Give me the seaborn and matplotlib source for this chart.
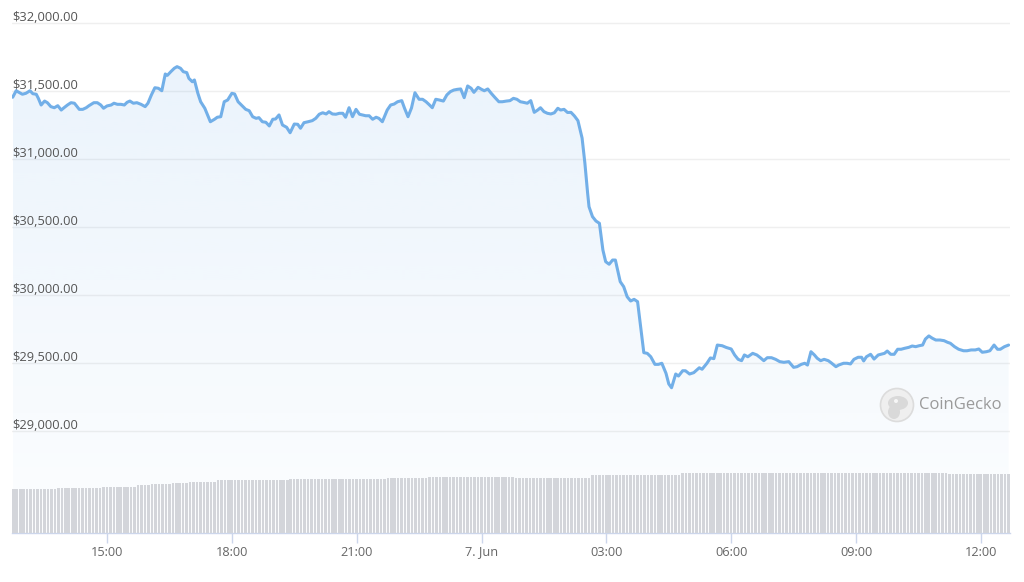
import numpy as np
import pandas as pd
import matplotlib
matplotlib.use("Agg")
import matplotlib.pyplot as plt
import matplotlib.dates as mdates
import matplotlib.transforms as mtransforms
from matplotlib.patches import Polygon, Circle, Ellipse
import matplotlib.colors as mcolors
import seaborn as sns

# ---------------- data ----------------
times = [
    "12:44", "12:49", "12:53", "12:58", "13:03", "13:09", "13:13", "13:18", "13:21", "13:25", "13:30", "13:34", "13:39", "13:44", "13:49", "13:54", "13:58", "14:03", "14:08", "14:13", "14:17", "14:20", "14:25", "14:30", "14:34", "14:41", "14:46", "14:51", "14:55", "15:00",
    "15:06", "15:10", "15:15", "15:20", "15:25", "15:29", "15:33", "15:38", "15:43", "15:49", "15:55", "15:59", "16:04", "16:09", "16:14", "16:19", "16:24", "16:27", "16:32", "16:37", "16:41", "16:46", "16:50", "16:55", "16:58", "17:03", "17:06", "17:11", "17:15", "17:21",
    "17:29", "17:35", "17:39", "17:44", "17:49", "17:54", "18:00", "18:04", "18:09", "18:15", "18:20", "18:25", "18:30", "18:35", "18:39", "18:44", "18:49", "18:54", "18:59", "19:03", "19:08", "19:13", "19:19", "19:24", "19:30", "19:35", "19:39", "19:44", "19:50", "19:56",
    "20:01", "20:06", "20:11", "20:16", "20:20", "20:25", "20:30", "20:35", "20:40", "20:44", "20:49", "20:54", "20:59", "21:04", "21:08", "21:13", "21:18", "21:23", "21:28", "21:32", "21:37", "21:44", "21:49", "21:54", "21:59", "22:05", "22:09", "22:14", "22:19", "22:24",
    "22:30", "22:35", "22:40", "22:44", "22:49", "22:54", "22:59", "23:05", "23:10", "23:15", "23:20", "23:25", "23:30", "23:35", "23:40", "23:45", "23:49", "23:55", "00:00", "00:04", "00:09", "00:14", "00:19", "00:25", "00:30", "00:36", "00:41", "00:46", "00:51", "00:56",
    "01:00", "01:06", "01:11", "01:16", "01:21", "01:25", "01:30", "01:35", "01:40", "01:45", "01:50", "01:54", "01:59", "02:04", "02:09", "02:14", "02:19", "02:25", "02:29", "02:33", "02:35", "02:40", "02:45", "02:50", "02:55", "02:59", "03:04", "03:09", "03:13", "03:20",
    "03:25", "03:30", "03:35", "03:40", "03:45", "03:50", "03:54", "03:59", "04:04", "04:10", "04:15", "04:20", "04:26", "04:30", "04:34", "04:40", "04:44", "04:50", "04:54", "05:00", "05:06", "05:14", "05:18", "05:25", "05:30", "05:35", "05:40", "05:47", "05:53", "06:00",
    "06:05", "06:10", "06:15", "06:19", "06:24", "06:31", "06:37", "06:42", "06:47", "06:52", "06:58", "07:04", "07:10", "07:16", "07:23", "07:30", "07:35", "07:41", "07:46", "07:50", "07:55", "08:00", "08:04", "08:09", "08:14", "08:20", "08:24", "08:31", "08:35", "08:42",
    "08:47", "08:52", "08:57", "09:03", "09:08", "09:11", "09:15", "09:21", "09:26", "09:32", "09:36", "09:41", "09:45", "09:50", "09:55", "10:00", "10:05", "10:10", "10:16", "10:21", "10:26", "10:31", "10:36", "10:40", "10:45", "10:50", "10:55", "11:01", "11:07", "11:12",
    "11:16", "11:22", "11:28", "11:35", "11:40", "11:46", "11:52", "11:57", "12:02", "12:08", "12:13", "12:19", "12:24", "12:28", "12:34", "12:40",
]

prices = [
    31454, 31502, 31490, 31476, 31483, 31502, 31480, 31476, 31446, 31397, 31426, 31414, 31385, 31377, 31392, 31360, 31377, 31397, 31414, 31410, 31385, 31365, 31365, 31377, 31392, 31414, 31414, 31397, 31373, 31390,
    31397, 31410, 31402, 31402, 31397, 31417, 31426, 31410, 31414, 31402, 31385, 31410, 31471, 31524, 31520, 31502, 31625, 31615, 31642, 31667, 31679, 31667, 31642, 31635, 31593, 31568, 31581, 31483, 31421, 31373,
    31274, 31292, 31307, 31311, 31421, 31434, 31483, 31478, 31421, 31390, 31365, 31355, 31311, 31299, 31304, 31274, 31270, 31243, 31292, 31294, 31324, 31250, 31233, 31193, 31257, 31255, 31226, 31267, 31274, 31282,
    31299, 31329, 31340, 31331, 31348, 31331, 31329, 31336, 31336, 31307, 31377, 31311, 31365, 31329, 31324, 31318, 31318, 31292, 31307, 31299, 31274, 31360, 31397, 31404, 31421, 31429, 31373, 31311, 31375, 31487,
    31439, 31439, 31421, 31402, 31377, 31439, 31434, 31426, 31471, 31495, 31507, 31512, 31515, 31451, 31537, 31520, 31490, 31527, 31512, 31502, 31515, 31483, 31454, 31421, 31421, 31426, 31429, 31446, 31439, 31421,
    31417, 31410, 31429, 31343, 31360, 31377, 31348, 31336, 31331, 31340, 31373, 31360, 31365, 31342, 31343, 31316, 31282, 31154, 30971, 30748, 30649, 30576, 30544, 30527, 30331, 30245, 30226, 30257, 30257, 30098,
    30061, 29987, 29956, 29968, 29951, 29743, 29576, 29571, 29546, 29490, 29490, 29498, 29424, 29346, 29318, 29419, 29404, 29443, 29443, 29419, 29429, 29465, 29454, 29498, 29537, 29532, 29632, 29627, 29614, 29603,
    29559, 29527, 29517, 29559, 29546, 29571, 29559, 29539, 29517, 29539, 29539, 29527, 29510, 29505, 29510, 29468, 29473, 29490, 29498, 29485, 29583, 29559, 29535, 29517, 29527, 29517, 29502, 29473, 29485, 29498,
    29498, 29493, 29527, 29542, 29542, 29515, 29546, 29564, 29529, 29559, 29564, 29571, 29588, 29564, 29564, 29601, 29601, 29608, 29615, 29625, 29620, 29627, 29632, 29676, 29699, 29682, 29669, 29669, 29664, 29652,
    29645, 29620, 29601, 29590, 29590, 29596, 29596, 29603, 29579, 29583, 29590, 29632, 29601, 29601, 29620, 29632,
]

# 5-minute volume bars (billions USD), starting 6 Jun 12:43
volume_start = "2021-06-06 12:43"
volumes = [
    26.4, 26.4, 26.4, 26.4, 26.4, 26.4, 26.4, 26.4, 26.4, 26.4, 26.4, 26.4, 26.4,
    27.2, 27.2, 27.2, 27.2, 27.2, 27.2, 27.2, 27.2, 27.2, 27.2, 27.2, 27.2, 27.2,
    27.8, 27.8, 27.8, 27.8, 27.8, 27.8, 27.8, 27.8, 27.8, 27.8,
    28.6, 28.6, 28.6, 28.6, 29.2, 29.2, 29.2, 29.2, 29.2, 29.2, 30.0, 30.0, 30.0, 30.0, 30.0,
    30.8, 30.8, 30.8, 30.8, 30.8, 30.8, 30.8, 30.8,
    31.6, 31.6, 31.6, 31.6, 31.6, 31.6, 31.6, 31.6, 31.6, 31.6, 31.6, 31.6, 31.6, 31.6, 31.6, 31.6, 31.6, 31.6, 31.6, 31.6, 31.6,
    32.4, 32.4, 32.4, 32.4, 32.4, 32.4, 32.4, 32.4, 32.4, 32.4, 32.4, 32.4, 32.4, 32.4,
    32.4, 32.4, 32.4, 32.4, 32.4, 32.4, 32.4, 32.4, 32.4, 32.4, 32.4, 32.4, 32.4, 32.4,
    33.0, 33.0, 33.0, 33.0, 33.0, 33.0, 33.0, 33.0, 33.0, 33.0, 33.0, 33.0,
    33.8, 33.8, 33.8, 33.8, 33.8, 33.8, 33.8, 33.8, 33.8, 33.8, 33.8, 33.8, 33.8,
    33.8, 33.8, 33.8, 33.8, 33.8, 33.8, 33.8, 33.8, 33.8, 33.8, 33.8, 33.8,
    32.8, 32.8, 32.8, 32.8, 32.8, 32.8, 32.8, 32.8, 32.8, 32.8, 32.8,
    32.8, 32.8, 32.8, 32.8, 32.8, 32.8, 32.8, 32.8, 32.8, 32.8, 32.8,
    34.8, 34.8, 34.8, 34.8, 34.8, 34.8, 34.8, 34.8, 34.8, 34.8, 34.8, 34.8, 34.8,
    34.8, 34.8, 34.8, 34.8, 34.8, 34.8, 34.8, 34.8, 34.8, 34.8, 34.8, 34.8, 34.8,
    36.0, 36.0, 36.0, 36.0, 36.0, 36.0, 36.0, 36.0, 36.0, 36.0, 36.0, 36.0, 36.0, 36.0, 36.0, 36.0, 36.0, 36.0, 36.0, 36.0,
    36.0, 36.0, 36.0, 36.0, 36.0, 36.0, 36.0, 36.0, 36.0, 36.0, 36.0, 36.0, 36.0, 36.0, 36.0, 36.0, 36.0, 36.0, 36.0, 36.0,
    36.0, 36.0, 36.0, 36.0, 36.0, 36.0, 36.0, 36.0, 36.0, 36.0, 36.0, 36.0, 36.0, 36.0, 36.0, 36.0, 36.0, 36.0, 36.0, 36.0,
    36.0, 36.0, 36.0, 36.0, 36.0, 36.0, 36.0, 36.0, 36.0, 36.0, 36.0, 36.0, 36.0, 36.0, 36.0, 36.0, 36.0,
    35.4, 35.4, 35.4, 35.4, 35.4, 35.4, 35.4, 35.4, 35.4, 35.4, 35.4, 35.4, 35.4, 35.4, 35.4, 35.4, 35.4, 35.4,
]

y_ticks = [29000, 29500, 30000, 30500, 31000, 31500, 32000]
x_tick_times = ["2021-06-06 15:00", "2021-06-06 18:00", "2021-06-06 21:00", "2021-06-07 00:00",
                "2021-06-07 03:00", "2021-06-07 06:00", "2021-06-07 09:00", "2021-06-07 12:00"]
x_tick_labels = ["15:00", "18:00", "21:00", "7. Jun", "03:00", "06:00", "09:00", "12:00"]

# ---------------- build frames ----------------
dts = []
day = pd.Timestamp("2021-06-06")
prev = -1
for t in times:
    h, m = map(int, t.split(":"))
    mins = h * 60 + m
    if mins < prev:
        day += pd.Timedelta(days=1)
    prev = mins
    dts.append(day + pd.Timedelta(minutes=mins))
df = pd.DataFrame({"time": dts, "price": prices})

vstart = pd.Timestamp(volume_start)
vol_times = [vstart + pd.Timedelta(minutes=5 * i) for i in range(len(volumes))]
vdf = pd.DataFrame({"time": vol_times, "volume": volumes})

# ---------------- style ----------------
sns.set_theme(style="white")
plt.rcParams["font.family"] = ["Open Sans", "DejaVu Sans"]

W, H = 1024, 582
fig = plt.figure(figsize=(W / 100, H / 100), dpi=100)
fig.patch.set_facecolor("white")

ax_top_px, ax_bot_px = 20, 533
ax_left_px, ax_right_px = 12, 1010
ax = fig.add_axes([ax_left_px / W, (H - ax_bot_px) / H,
                   (ax_right_px - ax_left_px) / W, (ax_bot_px - ax_top_px) / H])
ymin, ymax = 28250, 32022
xmin, xmax = pd.Timestamp("2021-06-06 12:43"), pd.Timestamp("2021-06-07 12:42")

line_color = "#72afe8"

# gradient fill under the price line
xn = mdates.date2num(df["time"])
verts = np.vstack([np.column_stack([xn, df["price"].values]),
                   [[xn[-1], ymin], [xn[0], ymin]]])
clip = Polygon(verts, closed=True, transform=ax.transData, facecolor="none", edgecolor="none")
ax.add_patch(clip)
rgb = mcolors.to_rgb("#7cb5ec")
grad = np.zeros((256, 1, 4))
grad[..., 0], grad[..., 1], grad[..., 2] = rgb
grad[:, 0, 3] = np.linspace(0.17, 0.02, 256)
im = ax.imshow(grad, extent=[xn[0], xn[-1], ymin, ymax], origin="upper",
               aspect="auto", zorder=1, interpolation="bilinear")
im.set_clip_path(clip)

sns.lineplot(data=df, x="time", y="price", ax=ax, color=line_color, linewidth=2.2, zorder=3)

ax.set_xlim(xmin, xmax)
ax.set_ylim(ymin, ymax)
ax.set_xlabel("")
ax.set_ylabel("")

# y grid + labels
ax.set_yticks(y_ticks)
ax.yaxis.grid(True, color="#efefef", linewidth=1)
ax.xaxis.grid(False)
ax.tick_params(axis="y", length=0, labelleft=False)
ytrans = mtransforms.blended_transform_factory(ax.transAxes, ax.transData)
offset = mtransforms.ScaledTranslation(0, 2 / 100, fig.dpi_scale_trans)
for v in y_ticks:
    ax.text(0, v, f"${v:,.2f}", transform=ytrans + offset, ha="left", va="baseline",
            fontsize=9.3, color="#555555", zorder=5, clip_on=False)

# x axis
ax.set_xticks([pd.Timestamp(t) for t in x_tick_times])
ax.set_xticklabels(x_tick_labels)
ax.tick_params(axis="x", direction="out", length=7, width=1, color="#ccd6eb",
               labelsize=9.2, labelcolor="#666666", pad=2, bottom=True)
for s in ["top", "right", "left"]:
    ax.spines[s].set_visible(False)
ax.spines["bottom"].set_color("#ccd6eb")
ax.spines["bottom"].set_linewidth(1)

# volume bars on a twin axis
ax2 = ax.twinx()
ax2.bar(mdates.date2num(vdf["time"]), vdf["volume"], width=5 / 1440 * 0.74,
        align="edge", color="#d3d5da", linewidth=0, zorder=2)
ax2.set_ylim(0, (ax_bot_px - ax_top_px) * 0.6)
ax2.set_xlim(xmin, xmax)
ax2.set_yticks([])
for s in ax2.spines.values():
    s.set_visible(False)

# CoinGecko watermark
cx, cy = 897 / 100, (H - 405) / 100
fig.patches.append(Circle((cx, cy), 0.165, transform=fig.dpi_scale_trans,
                          facecolor="#efefef", edgecolor="#dcdcdc", linewidth=1.2, zorder=10))
fig.patches.append(Ellipse((cx + 0.01, cy + 0.02), 0.2, 0.14, transform=fig.dpi_scale_trans,
                           facecolor="#d9d9d9", edgecolor="none", zorder=11))
fig.patches.append(Ellipse((cx - 0.03, cy - 0.07), 0.12, 0.14, transform=fig.dpi_scale_trans,
                           facecolor="#d9d9d9", edgecolor="none", zorder=11))
fig.patches.append(Circle((cx - 0.01, cy + 0.04), 0.02, transform=fig.dpi_scale_trans,
                          facecolor="#f7f7f7", edgecolor="none", zorder=12))
fig.text(919 / W, (H - 405) / H, "CoinGecko", ha="left", va="center",
         fontsize=12, color="#9a9a9a", zorder=12)

fig.savefig("out.png", dpi=100, facecolor="white")
